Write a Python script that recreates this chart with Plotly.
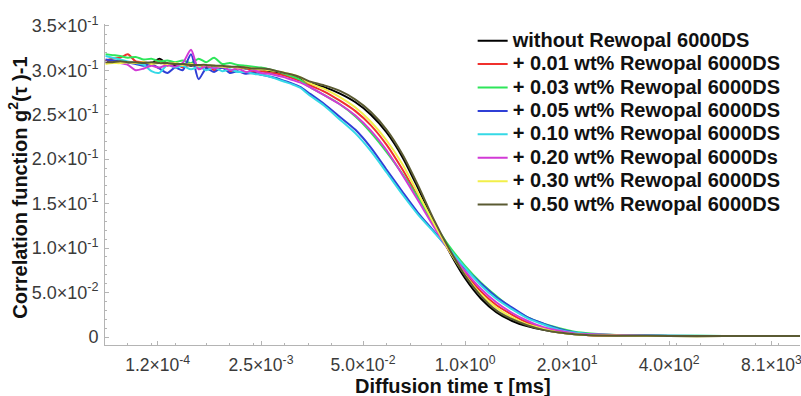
import plotly.graph_objects as go

# Diffusion time tau [ms] (shared sampling grid)
tau_ms = [2.6e-5, 3.2e-5, 4e-5, 5e-5, 6.3e-5, 8e-5, 1e-4, 1.26e-4, 1.6e-4, 2e-4,
          2.5e-4, 3.2e-4, 4e-4, 5e-4, 6.3e-4, 8e-4, 1e-3, 1.26e-3, 1.6e-3, 2e-3,
          2.5e-3, 3.2e-3, 4e-3, 5e-3, 6.3e-3, 8e-3,
          0.01, 0.016, 0.025, 0.04, 0.063, 0.1, 0.16, 0.25, 0.4, 0.63,
          1.0, 1.6, 2.5, 4.0, 6.3, 10, 16, 25, 40, 100, 400, 2000, 1e4, 1.9e4]

without_rewopal = [0.310, 0.310, 0.309, 0.309, 0.308, 0.309, 0.308, 0.313, 0.307, 0.306,
                   0.307, 0.305, 0.306, 0.304, 0.305, 0.303, 0.304, 0.303, 0.302, 0.302,
                   0.301, 0.299, 0.298, 0.296, 0.294, 0.291,
                   0.286, 0.281, 0.274, 0.264, 0.250, 0.230, 0.202, 0.168, 0.130, 0.096,
                   0.066, 0.043, 0.028, 0.018, 0.012, 0.008, 0.005, 0.003, 0.002, 0.0015,
                   0.001, 0.001, 0.001, 0.001]
wt_001 = [0.311, 0.313, 0.314, 0.318, 0.310, 0.309, 0.306, 0.311, 0.305, 0.308,
          0.303, 0.307, 0.302, 0.306, 0.300, 0.304, 0.299, 0.302, 0.303, 0.298,
          0.299, 0.297, 0.296, 0.294, 0.291, 0.288,
          0.284, 0.276, 0.266, 0.254, 0.238, 0.216, 0.188, 0.158, 0.126, 0.097,
          0.072, 0.051, 0.036, 0.025, 0.016, 0.010, 0.006, 0.004, 0.002, 0.0015,
          0.0012, 0.001, 0.001, 0.001]
wt_003 = [0.318, 0.317, 0.316, 0.314, 0.315, 0.312, 0.313, 0.310, 0.311, 0.309,
          0.311, 0.308, 0.313, 0.309, 0.314, 0.307, 0.308, 0.306, 0.305, 0.304,
          0.303, 0.301, 0.299, 0.296, 0.293, 0.289,
          0.282, 0.272, 0.262, 0.248, 0.230, 0.208, 0.183, 0.157, 0.128, 0.102,
          0.080, 0.061, 0.046, 0.032, 0.022, 0.015, 0.010, 0.006, 0.004, 0.002,
          0.0015, 0.0012, 0.001, 0.001]
wt_005 = [0.312, 0.311, 0.310, 0.309, 0.307, 0.305, 0.307, 0.302, 0.297, 0.303,
          0.300, 0.318, 0.290, 0.302, 0.298, 0.303, 0.297, 0.299, 0.296, 0.297,
          0.295, 0.293, 0.291, 0.288, 0.285, 0.281,
          0.275, 0.262, 0.248, 0.233, 0.213, 0.188, 0.163, 0.140, 0.119, 0.098,
          0.077, 0.060, 0.045, 0.033, 0.022, 0.015, 0.009, 0.005, 0.003, 0.002,
          0.0013, 0.001, 0.001, 0.001]
wt_010 = [0.316, 0.314, 0.312, 0.310, 0.308, 0.306, 0.299, 0.297, 0.306, 0.303,
          0.305, 0.301, 0.304, 0.300, 0.303, 0.299, 0.301, 0.298, 0.298, 0.296,
          0.295, 0.293, 0.290, 0.287, 0.284, 0.280,
          0.273, 0.260, 0.245, 0.229, 0.209, 0.185, 0.160, 0.138, 0.118, 0.099,
          0.078, 0.058, 0.043, 0.031, 0.021, 0.014, 0.008, 0.005, 0.003, 0.002,
          0.0014, 0.0012, 0.001, 0.001]
wt_020 = [0.309, 0.309, 0.308, 0.306, 0.300, 0.302, 0.305, 0.303, 0.306, 0.304,
          0.308, 0.323, 0.301, 0.305, 0.302, 0.304, 0.300, 0.302, 0.298, 0.300,
          0.297, 0.296, 0.294, 0.292, 0.289, 0.286,
          0.282, 0.272, 0.262, 0.249, 0.232, 0.210, 0.182, 0.154, 0.124, 0.097,
          0.074, 0.054, 0.039, 0.027, 0.018, 0.011, 0.007, 0.004, 0.003, 0.002,
          0.0012, 0.001, 0.001, 0.001]
wt_030 = [0.307, 0.308, 0.308, 0.309, 0.308, 0.309, 0.307, 0.308, 0.307, 0.308,
          0.306, 0.307, 0.305, 0.306, 0.305, 0.304, 0.304, 0.303, 0.303, 0.302,
          0.301, 0.300, 0.299, 0.297, 0.295, 0.292,
          0.286, 0.279, 0.270, 0.258, 0.242, 0.221, 0.194, 0.162, 0.128, 0.097,
          0.070, 0.048, 0.033, 0.022, 0.014, 0.009, 0.005, 0.003, 0.002, 0.0015,
          0.001, 0.001, 0.001, 0.001]
wt_050 = [0.309, 0.309, 0.310, 0.309, 0.309, 0.308, 0.309, 0.308, 0.308, 0.307,
          0.307, 0.306, 0.306, 0.306, 0.305, 0.305, 0.304, 0.304, 0.303, 0.302,
          0.302, 0.301, 0.299, 0.297, 0.295, 0.292,
          0.288, 0.283, 0.277, 0.267, 0.253, 0.233, 0.205, 0.171, 0.132, 0.099,
          0.069, 0.046, 0.030, 0.020, 0.013, 0.008, 0.005, 0.003, 0.002, 0.0015,
          0.0012, 0.001, 0.001, 0.001]

series_names = ["without Rewopal 6000DS",
                "+ 0.01 wt% Rewopal 6000DS",
                "+ 0.03 wt% Rewopal 6000DS",
                "+ 0.05 wt% Rewopal 6000DS",
                "+ 0.10 wt% Rewopal 6000DS",
                "+ 0.20 wt% Rewopal 6000Ds",
                "+ 0.30 wt% Rewopal 6000DS",
                "+ 0.50 wt% Rewopal 6000DS"]
series_values = [without_rewopal, wt_001, wt_003, wt_005, wt_010, wt_020, wt_030, wt_050]
series_colors = ["#000000", "#f0302c", "#2ee65a", "#2f3fd6", "#35d9e6",
                 "#d23ad6", "#f2ef4a", "#5a5a32"]

x_tickvals = [1.2e-4, 2.5e-3, 5.0e-2, 1.0, 20, 400, 8100]
x_ticktext = ["1.2×10<sup>-4</sup>", "2.5×10<sup>-3</sup>", "5.0×10<sup>-2</sup>",
              "1.0×10<sup>0</sup>", "2.0×10<sup>1</sup>", "4.0×10<sup>2</sup>",
              "8.1×10<sup>3</sup>"]
y_tickvals = [0, 0.05, 0.10, 0.15, 0.20, 0.25, 0.30, 0.35]
y_ticktext = ["0", "5.0×10<sup>-2</sup>", "1.0×10<sup>-1</sup>", "1.5×10<sup>-1</sup>",
              "2.0×10<sup>-1</sup>", "2.5×10<sup>-1</sup>", "3.0×10<sup>-1</sup>",
              "3.5×10<sup>-1</sup>"]

fig = go.Figure()
for name, vals, col in zip(series_names, series_values, series_colors):
    fig.add_trace(go.Scatter(
        x=tau_ms, y=vals, mode="lines",
        name='<span style="font-size:20px"><b>' + name + '</b></span>',
        line=dict(color=col, width=2, shape="spline", smoothing=0.7),
    ))

axis_grey = "#b4b4b4"
fig.update_layout(
    template="none",
    width=801, height=396,
    margin=dict(l=105, r=1, t=24, b=51, autoexpand=False),
    paper_bgcolor="white", plot_bgcolor="white",
    font=dict(family="Liberation Sans, Arial, sans-serif", color="#333333"),
    showlegend=True,
    legend=dict(
        x=0.529, xanchor="left", y=1.0, yanchor="top",
        bgcolor="rgba(0,0,0,0)", borderwidth=0,
        font=dict(family="Liberation Sans, Arial, sans-serif", size=15.7, color="#111111"),
        itemwidth=30, tracegroupgap=0,
    ),
    xaxis=dict(
        type="log", automargin=False,
        range=[-4.592, 4.272],
        tickmode="array", tickvals=x_tickvals, ticktext=x_ticktext,
        tickfont=dict(size=17.5, color="#3a3a3a"),
        ticks="inside", ticklen=4, tickcolor=axis_grey,
        minor=dict(ticks="inside", ticklen=2, tickcolor=axis_grey, dtick="D2"),
        showline=True, linecolor=axis_grey, linewidth=1,
        showgrid=False, zeroline=False,
        ticklabelstandoff=4,
        ticklabeloverflow="allow",
    ),
    yaxis=dict(
        automargin=False,
        range=[-0.009, 0.352],
        tickmode="array", tickvals=y_tickvals, ticktext=y_ticktext,
        tickfont=dict(size=18, color="#3a3a3a"),
        ticks="inside", ticklen=4, tickcolor=axis_grey,
        minor=dict(ticks="inside", ticklen=2, tickcolor=axis_grey, dtick=0.01),
        showline=True, linecolor=axis_grey, linewidth=1,
        showgrid=False, zeroline=False,
        ticklabelstandoff=2,
    ),
    annotations=[
        dict(
            text="<b>Diffusion time τ [ms]</b>",
            xref="paper", yref="paper", x=0.5, y=0,
            xanchor="center", yanchor="middle", yshift=-41, showarrow=False,
            font=dict(size=20, color="#111111"),
        ),
        dict(
            text="<b>Correlation function g<sup>2</sup>(τ )-1</b>",
            xref="paper", yref="paper", x=0, y=0.49,
            xanchor="center", yanchor="middle", xshift=-87, textangle=-90,
            showarrow=False, font=dict(size=20, color="#111111"),
        ),
    ],
)

fig.write_html("out.html",
               config={"displayModeBar": False, "staticPlot": True},
               post_script="document.body.style.margin='0';document.body.style.overflow='hidden';")
